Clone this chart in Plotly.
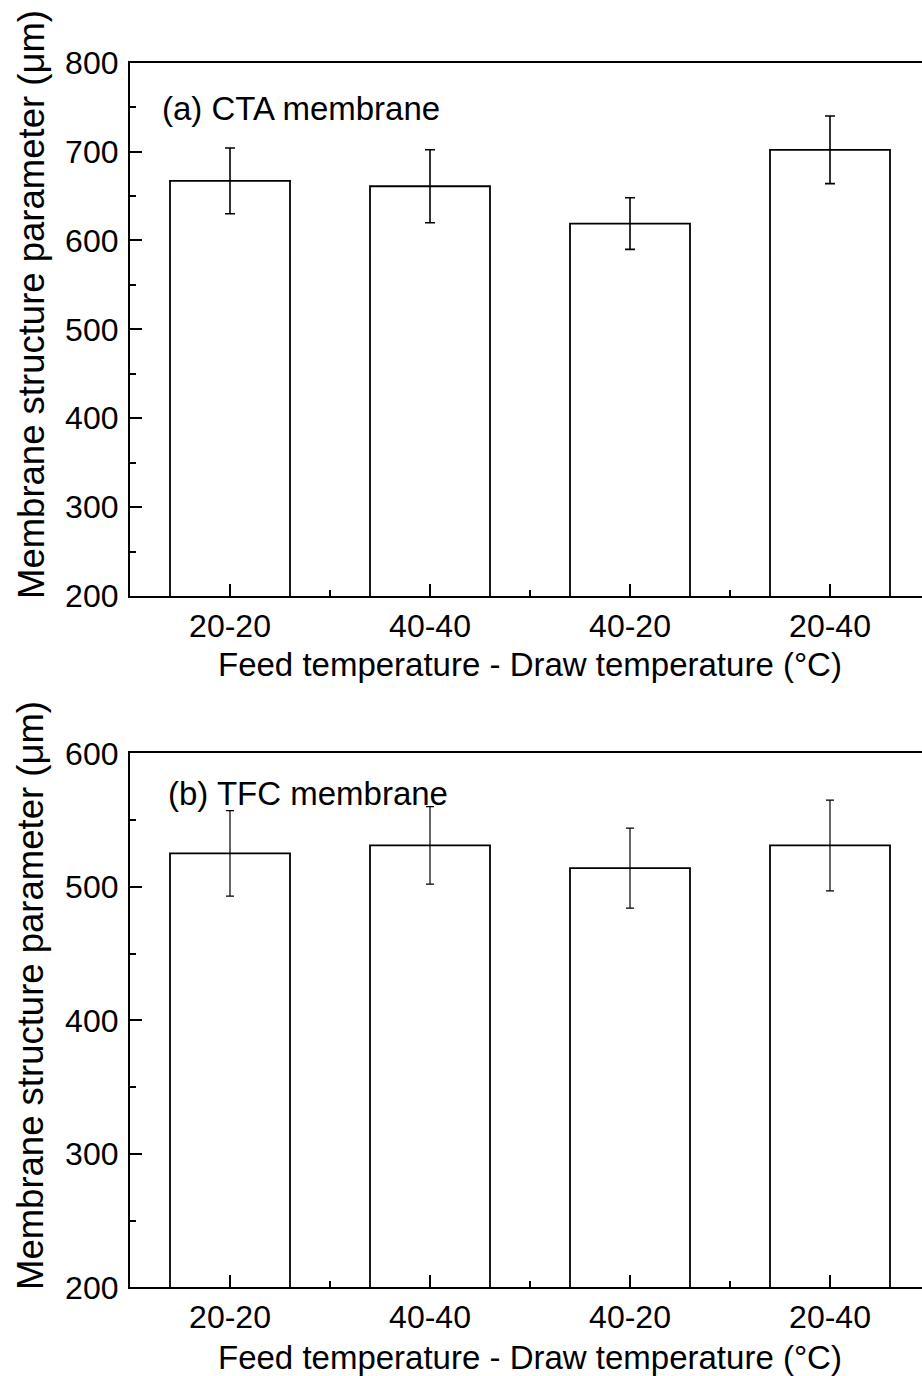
import plotly.graph_objects as go

categories = ["20-20", "40-40", "40-20", "20-40"]
cta_values = [667, 661, 619, 702]
cta_errors = [37, 41, 29, 38]
tfc_values = [525, 531, 514, 531]
tfc_errors = [32, 29, 30, 34]

y_title = "Membrane structure parameter (μm)"
x_title = "Feed temperature - Draw temperature (°C)"
panel_a = "(a) CTA membrane"
panel_b = "(b) TFC membrane"

FONT = "Liberation Sans, Arial, sans-serif"
W, H = 922, 1376
L = 130
xpos = list(range(len(categories)))

fig = go.Figure()
fig.add_trace(go.Bar(
    x=xpos, y=cta_values, width=0.6, base=0,
    marker=dict(color="white", line=dict(color="black", width=1.8)),
    error_y=dict(type="data", array=cta_errors, color="black", thickness=1.6, width=5),
    xaxis="x", yaxis="y", showlegend=False))
fig.add_trace(go.Bar(
    x=xpos, y=tfc_values, width=0.6, base=0,
    marker=dict(color="white", line=dict(color="black", width=1.8)),
    error_y=dict(type="data", array=tfc_errors, color="black", thickness=1.2, width=4),
    xaxis="x2", yaxis="y2", showlegend=False))

def ydom(top_px, bot_px):
    return [(H - bot_px) / H, (H - top_px) / H]

dom_a = ydom(62.7, 596)
dom_b = ydom(753.3, 1287.3)
xr = [-0.5, -0.5 + (W - L) / 200.0]

xcommon = dict(
    range=xr, tickmode="array", tickvals=xpos, ticktext=categories,
    ticks="inside", ticklen=12, tickwidth=1.5, tickcolor="black",
    minor=dict(ticks="inside", ticklen=6, tickwidth=1.5, tickcolor="black",
               tick0=0.5, dtick=1),
    showline=True, linecolor="black", linewidth=2.2, mirror=True,
    showgrid=False, zeroline=False, automargin=False,
    tickfont=dict(family=FONT, size=32, color="black"),
)
ycommon = dict(
    ticks="inside", ticklen=12, tickwidth=1.5, tickcolor="black",
    dtick=100, ticklabelstandoff=3,
    minor=dict(ticks="inside", ticklen=6, tickwidth=1.5, tickcolor="black", dtick=50),
    showline=True, linecolor="black", linewidth=2.2,
    showgrid=False, zeroline=False, automargin=False,
    tickfont=dict(family=FONT, size=32, color="black"),
)

fig.update_layout(
    width=W, height=H,
    margin=dict(l=L, r=0, t=0, b=0, pad=0, autoexpand=False),
    paper_bgcolor="white", plot_bgcolor="white",
    bargap=0.4,
    xaxis=dict(domain=[0, 1], anchor="y", **xcommon),
    yaxis=dict(domain=dom_a, anchor="x", range=[200, 800], tick0=200, **ycommon),
    xaxis2=dict(domain=[0, 1], anchor="y2", **xcommon),
    yaxis2=dict(domain=dom_b, anchor="x2", range=[200, 600], tick0=200, **ycommon),
)

def px_x(p):
    return (p - L) / (W - L)

def px_y(p):
    return (H - p) / H

ann = []
for yc in (305, 996):
    ann.append(dict(text=y_title, textangle=-90, xref="paper", yref="paper",
                    x=px_x(31), y=px_y(yc), xanchor="center", yanchor="middle",
                    showarrow=False, font=dict(family=FONT, size=36.5, color="black")))
for yy in (664, 1357):
    ann.append(dict(text=x_title, xref="paper", yref="paper",
                    x=px_x(530), y=px_y(yy), xanchor="center", yanchor="middle",
                    showarrow=False, font=dict(family=FONT, size=33, color="black")))
ann.append(dict(text=panel_a, xref="paper", yref="paper", x=px_x(160), y=px_y(108),
                xanchor="left", yanchor="middle", showarrow=False,
                font=dict(family=FONT, size=33, color="black")))
ann.append(dict(text=panel_b, xref="paper", yref="paper", x=px_x(166), y=px_y(793),
                xanchor="left", yanchor="middle", showarrow=False,
                font=dict(family=FONT, size=33, color="black")))
fig.update_layout(annotations=ann)

fig.write_html("out.html")
